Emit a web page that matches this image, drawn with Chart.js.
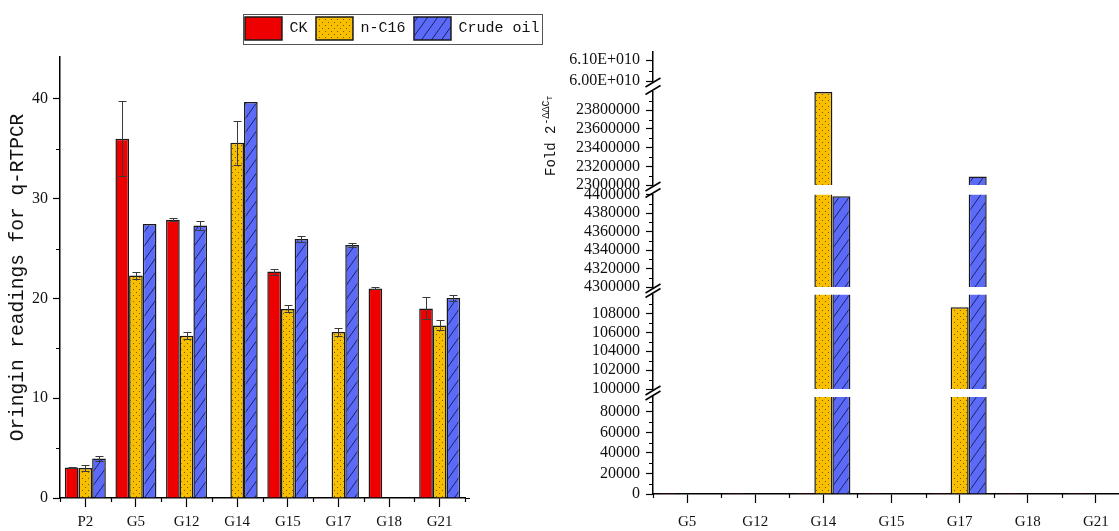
<!DOCTYPE html>
<html>
<head>
<meta charset="utf-8">
<script src="https://cdn.jsdelivr.net/npm/chart.js@4.4.1/dist/chart.umd.min.js"></script>
<style>
html, body { margin: 0; padding: 0; background: #fff; overflow: hidden; width: 1119px; height: 531px; }
#left { position: absolute; left: 0; top: 0; }
#right { position: absolute; left: 530px; top: 0; }
</style>
</head>
<body>
<canvas id="left" width="548" height="531"></canvas>
<canvas id="right" width="600" height="531"></canvas>
<script>
// left panel: raw Ct readings
const groups = ["P2", "G5", "G12", "G14", "G15", "G17", "G18", "G21"];
const ckCt = [3.05, 36.0, 27.9, null, 22.7, null, 21.0, 19.0];
const ckErr = [0.05, 3.75, 0.15, null, 0.3, null, 0.1, 1.1];
const c16Ct = [3.0, 22.3, 16.25, 35.6, 18.95, 16.65, null, 17.3];
const c16Err = [0.3, 0.4, 0.35, 2.2, 0.35, 0.4, null, 0.5];
const oilCt = [3.95, 27.45, 27.3, 39.7, 25.95, 25.35, null, 20.05];
const oilErr = [0.25, null, 0.45, null, 0.3, 0.2, null, 0.3];
const ctTicks = [0, 10, 20, 30, 40];

// right panel: fold change, broken axis
const foldGroups = ["G5", "G12", "G14", "G15", "G17", "G18", "G21"];
const ckFold = [1, 1, 1, 1, 1, 1, 1];
const c16Fold = [0, 0, 23995000, 0, 108650, null, 0];
const oilFold = [0, 0, 4398000, 0, 23090000, null, 0];

// axis segments, top to bottom
const segMin = [6.0e10, 23000000, 4300000, 100000, 0];
const segMax = [6.14e10, 24000000, 4400000, 110000, 94600];
const segTicks = [
    [6.0e10, 6.1e10],
    [23000000, 23200000, 23400000, 23600000, 23800000],
    [4300000, 4320000, 4340000, 4360000, 4380000, 4400000],
    [100000, 102000, 104000, 106000, 108000],
    [0, 20000, 40000, 60000, 80000]
];
const segHeight = [29, 93.5, 92.5, 94.5, 97];
const gapHeight = [10.5, 9.5, 7.5, 8];

const RED = "#ee0000";
const INK = "#111";
const tickFont = { family: "Liberation Serif", size: 16 };
const labelFont = { family: "Liberation Serif", size: 15 };
const monoFont = "Liberation Mono";

function dotPattern() {
    const c = document.createElement("canvas");
    c.width = 6; c.height = 6;
    const g = c.getContext("2d");
    g.fillStyle = "#f7bf00";
    g.fillRect(0, 0, 6, 6);
    g.fillStyle = "#7a5a00";
    g.fillRect(1, 1, 1, 1);
    g.fillRect(4, 4, 1, 1);
    return g.createPattern(c, "repeat");
}

function hatchPattern() {
    const c = document.createElement("canvas");
    c.width = 10; c.height = 14;
    const g = c.getContext("2d");
    g.fillStyle = "#5b6bf8";
    g.fillRect(0, 0, 10, 14);
    g.strokeStyle = "#1c2266";
    g.lineWidth = 1;
    for (const dx of [-10, 0, 10]) {
        g.beginPath();
        g.moveTo(dx - 1, 15.4);
        g.lineTo(dx + 11, -1.4);
        g.stroke();
    }
    return g.createPattern(c, "repeat");
}

const DOTS = dotPattern();
const HATCH = hatchPattern();

const errorBars = {
    id: "errorBars",
    afterDatasetsDraw(chart) {
        const ctx = chart.ctx;
        const y = chart.scales.y;
        ctx.save();
        ctx.strokeStyle = "#3a3a3a";
        ctx.lineWidth = 1;
        chart.data.datasets.forEach((ds, i) => {
            const meta = chart.getDatasetMeta(i);
            ds.data.forEach((v, j) => {
                const e = ds.errors[j];
                if (v == null || e == null) return;
                const x = Math.round(meta.data[j].x) + 0.5;
                const top = Math.round(y.getPixelForValue(v + e)) + 0.5;
                const bot = Math.round(y.getPixelForValue(v - e)) + 0.5;
                ctx.beginPath();
                ctx.moveTo(x, top); ctx.lineTo(x, bot);
                ctx.moveTo(x - 4, top); ctx.lineTo(x + 4, top);
                ctx.moveTo(x - 4, bot); ctx.lineTo(x + 4, bot);
                ctx.stroke();
            });
        });
        ctx.restore();
    }
};

// short ticks between the labelled ones
const minorTicks = {
    id: "minorTicks",
    afterDraw(chart, args, opts) {
        const ctx = chart.ctx;
        ctx.save();
        ctx.strokeStyle = "#000";
        ctx.lineWidth = 1.2;
        ctx.beginPath();
        (opts.y || []).forEach((item) => {
            const s = chart.scales[item.id];
            item.values.forEach((v) => {
                const py = Math.round(s.getPixelForValue(v)) + 0.5;
                ctx.moveTo(s.right - 4, py);
                ctx.lineTo(s.right, py);
            });
        });
        if (opts.x) {
            const s = chart.scales[opts.x];
            for (let i = 0; i <= s.ticks.length; i++) {
                const px = Math.round(s.getPixelForValue(i - 0.5)) + 0.5;
                ctx.moveTo(px, s.top);
                ctx.lineTo(px, s.top + 4);
            }
            if (opts.xExtend) {
                ctx.moveTo(s.right, s.top + 0.5);
                ctx.lineTo(s.right + opts.xExtend, s.top + 0.5);
            }
        }
        ctx.stroke();
        ctx.restore();
    }
};

const legendFrame = {
    id: "legendFrame",
    afterDraw(chart) {
        const hb = chart.legend.legendHitBoxes;
        if (!hb || !hb.length) return;
        const last = hb[hb.length - 1];
        const ctx = chart.ctx;
        ctx.save();
        ctx.strokeStyle = "#555";
        ctx.lineWidth = 1;
        const l = Math.round(hb[0].left - 2) + 0.5;
        const r = Math.round(last.left + last.width + 2.5) + 0.5;
        const t = Math.round(hb[0].top - 3) + 0.5;
        const b = Math.round(hb[0].top + hb[0].height + 4) + 0.5;
        ctx.strokeRect(l, t, r - l, b - t);
        ctx.restore();
    }
};

function barSet(label, data, errors, fill) {
    return {
        label, data, errors,
        backgroundColor: fill,
        borderColor: "#1a1a1a",
        borderWidth: 1.5,
        categoryPercentage: 0.81,
        barPercentage: 1
    };
}

const axisBorder = { color: "#000", width: 1.5 };
const hidden = { grid: { display: false }, border: { display: false }, ticks: { display: false } };

new Chart(document.getElementById("left"), {
    type: "bar",
    data: {
        labels: groups,
        datasets: [
            barSet("CK", ckCt, ckErr, RED),
            barSet("n-C16", c16Ct, c16Err, DOTS),
            barSet("Crude oil", oilCt, oilErr, HATCH)
        ]
    },
    options: {
        responsive: false,
        animation: false,
        layout: { padding: { top: 8.5 } },
        plugins: {
            legend: {
                position: "top",
                align: "end",
                labels: {
                    boxWidth: 37,
                    boxHeight: 23,
                    padding: 8.5,
                    color: INK,
                    font: { family: monoFont, size: 15 }
                }
            },
            tooltip: { enabled: false },
            minorTicks: { y: [{ id: "y", values: [5, 15, 25, 35] }], x: "x", xExtend: 5 }
        },
        scales: {
            x: {
                grid: { offset: false, drawOnChartArea: false, tickLength: 9, tickColor: "#000", tickWidth: 1.2 },
                border: axisBorder,
                ticks: { color: INK, font: labelFont, padding: 6, maxRotation: 0 },
                afterFit: (s) => { s.height = 33; }
            },
            y: {
                min: 0,
                max: 44.2,
                afterBuildTicks: (s) => { s.ticks = ctTicks.map((v) => ({ value: v })); },
                grid: { drawOnChartArea: false, tickLength: 7, tickColor: "#000", tickWidth: 1.2 },
                border: axisBorder,
                ticks: { color: INK, font: tickFont, padding: 5, autoSkip: false },
                title: {
                    display: true,
                    text: "Oringin readings for q-RTPCR",
                    color: INK,
                    font: { family: monoFont, size: 19.5 },
                    padding: { top: 6, bottom: 0 }
                },
                afterFit: (s) => { s.width = 60; }
            },
            spacer: { position: "right", ...hidden, afterFit: (s) => { s.width = 83; } },
            gapTop: { position: "top", ...hidden, afterFit: (s) => { s.height = 7; } }
        }
    },
    plugins: [errorBars, minorTicks, legendFrame]
});

// right panel: every series is drawn once per axis segment, clipped to it
const clipToSegment = {
    id: "clipToSegment",
    beforeDatasetDraw(chart, args) {
        const s = args.meta.yScale;
        const a = chart.chartArea;
        chart.ctx.save();
        chart.ctx.beginPath();
        chart.ctx.rect(a.left, s.top, a.right - a.left, s.bottom - s.top);
        chart.ctx.clip();
    },
    afterDatasetDraw(chart) {
        chart.ctx.restore();
    }
};

const breakMarks = {
    id: "breakMarks",
    afterDraw(chart) {
        const ctx = chart.ctx;
        ctx.save();
        ctx.strokeStyle = "#000";
        ctx.lineWidth = 1.5;
        gapHeight.forEach((h, i) => {
            const s = chart.scales["gap" + i];
            const x = s.right;
            for (const y of [s.top + 1.5, s.bottom - 1.5]) {
                ctx.beginPath();
                ctx.moveTo(x - 7.5, y + 4.5);
                ctx.lineTo(x + 7.5, y - 4.5);
                ctx.stroke();
            }
        });
        ctx.restore();
    }
};

const foldTitle = {
    id: "foldTitle",
    afterDraw(chart) {
        const ctx = chart.ctx;
        ctx.save();
        ctx.translate(25, 176);
        ctx.rotate(-Math.PI / 2);
        ctx.fillStyle = INK;
        ctx.textBaseline = "alphabetic";
        ctx.font = "14px " + monoFont;
        const base = "Fold 2";
        ctx.fillText(base, 0, 0);
        let w = ctx.measureText(base).width + 1;
        ctx.font = "10px " + monoFont;
        const sup = "-ΔΔC";
        ctx.fillText(sup, w, -6);
        w += ctx.measureText(sup).width;
        ctx.font = "8px " + monoFont;
        ctx.fillText("T", w, -3);
        ctx.restore();
    }
};

const series = [
    { name: "CK", data: ckFold, fill: RED },
    { name: "n-C16", data: c16Fold, fill: DOTS },
    { name: "Crude oil", data: oilFold, fill: HATCH }
];

const foldSets = [];
series.forEach((sr) => {
    segMin.forEach((m, k) => {
        foldSets.push({
            label: sr.name,
            data: sr.data,
            stack: sr.name,
            yAxisID: "seg" + k,
            backgroundColor: sr.fill,
            borderColor: "#1a1a1a",
            borderWidth: 1.5,
            categoryPercentage: 0.794,
            barPercentage: 1
        });
    });
});

const foldScales = {
    x: {
        z: 1,
        grid: { offset: false, drawOnChartArea: false, tickLength: 9, tickColor: "#000", tickWidth: 1.2 },
        border: axisBorder,
        ticks: { color: INK, font: labelFont, padding: 10, maxRotation: 0 },
        afterFit: (s) => { s.height = 37; }
    }
};
const minorY = [];
// stacked left axes are laid out bottom-up, so add them from the bottom segment
for (let k = segMin.length - 1; k >= 0; k--) {
    const t = segTicks[k];
    foldScales["seg" + k] = {
        type: "linear",
        position: "left",
        stack: "fold",
        stackWeight: segHeight[k],
        stacked: false,
        min: segMin[k],
        max: segMax[k],
        afterBuildTicks: (s) => { s.ticks = t.map((v) => ({ value: v })); },
        grid: { drawOnChartArea: false, tickLength: 7, tickColor: "#000", tickWidth: 1.2 },
        border: axisBorder,
        ticks: {
            color: INK,
            font: tickFont,
            padding: 6,
            autoSkip: false,
            callback: k === 0 ? (v) => (v / 1e10).toFixed(2) + "E+010" : (v) => String(v)
        },
        afterFit: (s) => { s.width = 123; }
    };
    const step = t[1] - t[0];
    const vals = [];
    for (let v = t[0] + step / 2; v <= segMax[k]; v += step) vals.push(v);
    minorY.push({ id: "seg" + k, values: vals });
    if (k > 0) {
        foldScales["gap" + (k - 1)] = {
            type: "linear",
            position: "left",
            stack: "fold",
            stackWeight: gapHeight[k - 1],
            ...hidden,
            afterFit: (s) => { s.width = 123; }
        };
    }
}

new Chart(document.getElementById("right"), {
    type: "bar",
    data: { labels: foldGroups, datasets: foldSets },
    options: {
        responsive: false,
        animation: false,
        layout: { padding: { top: 52 } },
        plugins: {
            legend: { display: false },
            tooltip: { enabled: false },
            minorTicks: { y: minorY, x: "x" }
        },
        scales: foldScales
    },
    plugins: [clipToSegment, minorTicks, breakMarks, foldTitle]
});
</script>
</body>
</html>
